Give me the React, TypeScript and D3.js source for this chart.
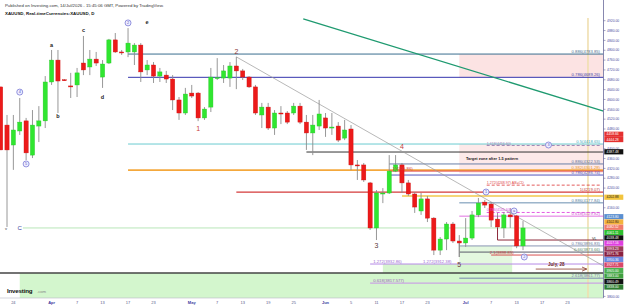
import React from 'react';
import * as d3 from 'd3';

const W = 625;
const H = 307;
const FONT = "'Liberation Sans', Arial, sans-serif";

// Daily XAUUSD candles, first entry = 2026-03-20, then every weekday up to 2026-07-14
const FIRST_INDEX = -1;
const opens = [4651, 4496, 4415, 4472, 4513, 4374, 4492, 4513, 4671, 4760, 4680, 4655, 4659, 4748, 4732, 4764, 4691, 4748, 4842, 4793, 4793, 4793, 4821, 4720, 4740, 4695, 4699, 4683, 4598, 4545, 4626, 4626, 4525, 4569, 4687, 4687, 4687, 4736, 4716, 4691, 4651, 4537, 4569, 4484, 4545, 4545, 4545, 4573, 4508, 4464, 4492, 4525, 4486, 4492, 4443, 4480, 4334, 4334, 4261, 4078, 4218, 4220, 4309, 4334, 4261, 4216, 4147, 4196, 4118, 3988, 4033, 4094, 4025, 4017, 4037, 4131, 4183, 4175, 4114, 4078, 4131, 4127, 4005];
const highs = [4651, 4537, 4537, 4606, 4525, 4557, 4573, 4695, 4801, 4801, 4683, 4708, 4728, 4858, 4801, 4793, 4760, 4846, 4870, 4801, 4890, 4829, 4829, 4760, 4752, 4728, 4716, 4699, 4610, 4647, 4659, 4630, 4569, 4728, 4768, 4740, 4752, 4773, 4724, 4695, 4659, 4586, 4586, 4557, 4573, 4553, 4586, 4586, 4537, 4537, 4598, 4545, 4545, 4508, 4517, 4496, 4354, 4342, 4265, 4232, 4240, 4374, 4374, 4342, 4273, 4224, 4220, 4208, 4122, 4041, 4102, 4102, 4049, 4118, 4147, 4200, 4192, 4183, 4139, 4143, 4159, 4131, 4106];
const lows = [4395, 4082, 4314, 4456, 4354, 4362, 4427, 4484, 4659, 4545, 4675, 4606, 4610, 4699, 4699, 4736, 4647, 4744, 4789, 4781, 4772, 4740, 4671, 4699, 4667, 4671, 4667, 4557, 4517, 4537, 4606, 4512, 4517, 4549, 4679, 4667, 4651, 4642, 4679, 4647, 4537, 4484, 4476, 4456, 4500, 4500, 4537, 4500, 4395, 4374, 4476, 4448, 4456, 4427, 4435, 4313, 4273, 4265, 4070, 4029, 4179, 4216, 4305, 4220, 4208, 4139, 4131, 4102, 3968, 3968, 3988, 4017, 3960, 4001, 4029, 4122, 4159, 4082, 4078, 4037, 4078, 3996, 3988];
const closes = [4395, 4395, 4476, 4508, 4383, 4496, 4513, 4671, 4760, 4675, 4678, 4651, 4708, 4720, 4764, 4748, 4744, 4842, 4793, 4789, 4829, 4821, 4712, 4740, 4695, 4712, 4683, 4598, 4545, 4622, 4614, 4525, 4561, 4691, 4689, 4716, 4736, 4716, 4691, 4651, 4545, 4569, 4484, 4545, 4543, 4508, 4573, 4508, 4464, 4496, 4541, 4484, 4488, 4435, 4476, 4334, 4333, 4273, 4078, 4220, 4220, 4309, 4334, 4261, 4216, 4163, 4196, 4118, 3988, 4033, 4094, 4025, 4017, 4037, 4131, 4179, 4171, 4110, 4082, 4131, 4123, 4005, 4078];

const priceTicks = [4920, 4880, 4840, 4800, 4760, 4720, 4680, 4640, 4600, 4560, 4520, 4480, 4440, 4400, 4360, 4320, 4280, 4240, 4200, 4160, 4120, 4080, 4040, 4000, 3960, 3920, 3880, 3840, 3800];

const dateTicks = [
  ['2026-03-24', '24'], ['2026-04-01', 'Apr'], ['2026-04-07', '7'], ['2026-04-13', '13'], ['2026-04-17', '17'],
  ['2026-04-23', '23'], ['2026-05-01', 'May'], ['2026-05-07', '7'], ['2026-05-13', '13'], ['2026-05-19', '19'],
  ['2026-05-25', '25'], ['2026-06-01', 'Jun'], ['2026-06-05', '5'], ['2026-06-11', '11'], ['2026-06-17', '17'],
  ['2026-06-23', '23'], ['2026-07-01', 'Jul'], ['2026-07-07', '7'], ['2026-07-13', '13'], ['2026-07-17', '17'],
  ['2026-07-23', '23'],
];

const tagValues = ['4458.66', '4444.28', '4387.48', '4202.88', '4123.80', '4102.80', '4082.52', '4061.11', '4038.48', '4017.16', '3993.23', '3971.76', '3950.36', '3927.71', '3905.00', '3883.00', '3860.49', '3838.00'];
const tagColors = ['#e53030', '#e53030', '#111111', '#f2c43d', '#5b8fd0', '#f4b23c', '#f07a6a', '#2fbf2f', '#111111', '#e040e0', '#9a3a5a', '#8a2040', '#6a86e0', '#d8486a', '#4caf50', '#3f9f3f', '#111111', '#2e7d32'];
const tagText = ['#fff', '#fff', '#fff', '#222', '#fff', '#222', '#fff', '#fff', '#fff', '#fff', '#fff', '#fff', '#fff', '#fff', '#fff', '#fff', '#fff', '#fff'];

// horizontal study levels: price, starting bar, label (right side)
const levelPrices = [4784.5, 4690, 4419, 4386.5, 4338, 4313, 4309, 4293, 4224, 4208, 4180, 4126, 4078, 4029, 4005, 3980, 3968, 3931.5, 3895, 3874, 3854];
const levelFrom = [19, 19, 19, 47, 60, 19, 60, 60, 36, 62, 71, 71, 2.5, 77, 71, 71, 76, 57, -2, 71, 57];
const levelLabels = ['0.886(4783.85)', '0.786(4689.26)', '0.5(4418.65)', '', '0.886(4322.53)', '0.382(4301.28)', '', '0.786(4286.74)', '1(4219.07)', '', '0.886(4177.84)', '0.618(4129.82)', '', '', '0.786(3896.83)', '0.66(3873.66)', '', '', '', '2.618(3861.77)', ''];
const levelColors = ['#3a6e8e', '#3535ad', '#6accd0', '#333333', '#6a7fa8', '#f4a83c', '#e24a4a', '#5555bb', '#d43a3a', '#f2c94c', '#6a8fb0', '#e070e0', '#b8e6b8', '#8e2a3a', '#8a96b4', '#5a5a6a', '#d85050', '#b58ae6', '#444444', '#7a88b0', '#c890e8'];
const levelLabelColors = ['#4d6f8e', '#4444aa', '#44aabb', '', '#5a6f98', '#e8952a', '', '#5555bb', '#c43a3a', '', '#5a7fa0', '#d050d0', '', '', '#6a7aa0', '#5a8a6a', '', '', '', '#7a7ab0', ''];
const levelWidths = [1, 1, 1, 1, 1, 1.6, 1, 1, 1.2, 1.6, 1, 1, 1, 1, 1, 1, 1, 1, 1.3, 1, 1];

const leftLabelText = ['1(4305.86)', '1.272(3932.86)', '1.272(3912.38)', '2.1(3898.85)', '0.618(3817.577)'];
const leftLabelBar = [60.5, 57.5, 65.3, 75.8, 57.5];
const leftLabelPrice = [4309, 3931.5, 3931.5, 3968, 3854];
const leftLabelColor = ['#d04040', '#9a6ad0', '#9a6ad0', '#d04040', '#a060c0'];

const dashPrices = [4413, 4252, 4141];
const dashLabels = ['1.618(4416.60)', '1.272(4248.97)   AB=CD', '0.786(4145.60)'];
const dashColors = ['#9a80b0', '#e04848', '#e048e0'];

const zoneFrom = [71, 71, 59, 71, 2];
const zoneTo = [94, 94, 79.3, 79.3, 94];
const zoneTop = [4784.5, 4419, 3931.5, 4005, 3895];
const zoneBottom = [4690, 4300, 3895, 3931.5, 3793];
const zoneFill = ['#fce3e3', '#fde9e9', '#d6f5cf', '#e4f8df', '#d3f6cd'];

const waveText = ['a', 'b', 'c', 'd', 'e', '1', '2', '3', '4', '5', 'C'];
const waveBar = [7, 8, 12, 15, 22, 30, 36, 58, 62, 71, 2];
const wavePrice = [4821, 4533, 4882, 4610, 4915, 4480, 4793, 4005, 4407, 3928, 4078];
const waveColor = ['#222', '#222', '#222', '#222', '#222', '#c84040', '#8a3a3a', '#5a3a3a', '#c04040', '#6a3a3a', '#4040a0'];
const waveSize = [5.5, 5.5, 5.5, 5.5, 5.5, 7, 7, 7, 7, 7, 6];

const circleText = ['4', '5', '2', '1', 'a', '2', '3'];
const circleBar = [2, 3, 19, 75.2, 79.6, 81.2, 85];
const circlePrice = [4630, 4338, 4911, 4224, 4147, 3960, 4415];

export default function App() {
  const days: string[] = [];
  {
    let d = new Date(Date.UTC(2026, 2, 20));
    while (days.length < 110) {
      const wd = d.getUTCDay();
      if (wd !== 0 && wd !== 6) days.push(d.toISOString().slice(0, 10));
      d = new Date(d.getTime() + 86400000);
    }
  }
  const barOf = (s: string) => days.indexOf(s) + FIRST_INDEX;

  const x = d3.scaleLinear().domain([0, 81]).range([7, 523]);
  const y = d3.scaleLinear().domain([3800, 4920]).range([296.4, 20.7]);
  const PR = 603.5;
  const PB = 298;

  const candles = opens.map((o, i) => ({ t: i + FIRST_INDEX, o, h: highs[i], l: lows[i], c: closes[i] }));

  const tags = tagValues.map((v, i) => ({ v, y: y(parseFloat(v)), bg: tagColors[i], fg: tagText[i] }))
    .sort((a, b) => a.y - b.y);
  let prev = -Infinity;
  tags.forEach((tg) => { if (tg.y < prev + 5.3) tg.y = prev + 5.3; prev = tg.y; });

  const shownTicks = priceTicks.filter((p) => tags.every((tg) => Math.abs(tg.y - y(p)) > 2.8));

  const grayDiag = { x1: x(36), y1: y(4773), x2: PR, y2: y(3923.5) };
  const greenDiag = { x1: x(46.5), y1: y(4927), x2: PR, y2: y(4553) };

  return (
    <svg width={W} height={H} style={{ position: 'absolute', left: 0, top: 0, background: '#fff' }} fontFamily={FONT}>
      <defs>
        <clipPath id="plot"><rect x={0} y={0} width={PR} height={PB} /></clipPath>
        <marker id="arr" markerWidth="6" markerHeight="6" refX="5" refY="3" orient="auto" markerUnits="userSpaceOnUse">
          <path d="M0,0.8 L5,3 L0,5.2" fill="none" stroke="#8a3a2a" strokeWidth="0.8" />
        </marker>
      </defs>
      <rect x={0} y={0} width={W} height={H} fill="#fff" />
      <text x={5} y={7.3} fontSize={4.3} fill="#333">Published on Investing.com, 14/Jul/2026 - 15:45:06 GMT, Powered by TradingView.</text>
      <text x={5} y={15.2} fontSize={4.4} fontWeight="bold" fill="#111">XAUUSD, Real-timeCurrencies:XAUUSD, D</text>

      <g clipPath="url(#plot)">
        {zoneFrom.map((f, i) => (
          <rect key={'z' + i} x={x(f)} y={y(zoneTop[i])} width={Math.min(x(zoneTo[i]), PR) - x(f)}
            height={y(zoneBottom[i]) - y(zoneTop[i])} fill={zoneFill[i]} />
        ))}
        <line x1={x(91.2)} x2={x(91.2)} y1={18} y2={PB} stroke="#f0dfb0" strokeWidth={1.6} />

        {levelPrices.map((p, i) => (
          <line key={'l' + i} x1={Math.max(0, x(levelFrom[i]))} x2={PR} y1={y(p)} y2={y(p)}
            stroke={levelColors[i]} strokeWidth={levelWidths[i]} />
        ))}
        {dashPrices.map((p, i) => (
          <line key={'d' + i} x1={x(75.3)} x2={600} y1={y(p)} y2={y(p)} stroke={dashColors[i]}
            strokeWidth={0.9} strokeDasharray="3,2" />
        ))}
        <line x1={greenDiag.x1} y1={greenDiag.y1} x2={greenDiag.x2} y2={greenDiag.y2} stroke="#1f9a70" strokeWidth={1.3} />
        <line x1={grayDiag.x1} y1={grayDiag.y1} x2={grayDiag.x2} y2={grayDiag.y2} stroke="#999" strokeWidth={0.7} />
        <line x1={x(77)} x2={x(77)} y1={y(4127)} y2={y(4029)} stroke="#8e2a3a" strokeWidth={1} />
        <line x1={x(71)} x2={x(71)} y1={y(4017)} y2={y(3960)} stroke="#777" strokeWidth={0.8} />
        <line x1={x(83)} x2={x(91)} y1={y(3911)} y2={y(3911)} stroke="#8a3a2a" strokeWidth={0.8} markerEnd="url(#arr)" />
        <text x={548} y={y(3911) - 2.6} fontSize={4.6} fontWeight="bold" fill="#6a2a2a">July, 28</text>

        {candles.map((k) => {
          const cx = x(k.t);
          const up = k.c >= k.o;
          const top = y(Math.max(k.o, k.c));
          const bh = Math.max(1, Math.abs(y(k.o) - y(k.c)));
          return (
            <g key={'c' + k.t}>
              <line x1={cx} x2={cx} y1={y(k.h)} y2={y(k.l)} stroke="#8c8c8c" strokeWidth={0.9} />
              <rect x={cx - 2.1} y={top} width={4.2} height={bh} fill={up ? '#30e630' : '#ec1a1a'}
                stroke={up ? '#26c826' : '#d01010'} strokeWidth={0.4} />
            </g>
          );
        })}

        {levelLabels.map((lb, i) => lb ? (
          <text key={'ll' + i} x={600} y={y(levelPrices[i]) - 1.2} fontSize={4.2} textAnchor="end" fill={levelLabelColors[i]}>{lb}</text>
        ) : null)}
        {leftLabelText.map((lb, i) => (
          <text key={'lt' + i} x={x(leftLabelBar[i])} y={y(leftLabelPrice[i]) - 1.2} fontSize={4.2} fill={leftLabelColor[i]}>{lb}</text>
        ))}
        {dashLabels.map((lb, i) => (
          <text key={'dl' + i} x={x(75.3)} y={y(dashPrices[i]) - 1} fontSize={3.6} fill={dashColors[i]}>{lb}</text>
        ))}
        <text x={466} y={159.5} fontSize={3.9} fontWeight="bold" fill="#222">Target zone after 1-5 pattern</text>
        <text x={592} y={239.5} fontSize={3.8} fill="#333">VL</text>
        <text x={5} y={229.5} fontSize={4} fill="#333">v</text>

        {waveText.map((t, i) => (
          <text key={'w' + i} x={x(waveBar[i])} y={y(wavePrice[i])} dy="0.35em" textAnchor="middle"
            fontSize={waveSize[i]} fontWeight={waveSize[i] < 6 ? 'bold' : 'normal'} fill={waveColor[i]}>{t}</text>
        ))}
        {circleText.map((t, i) => (
          <g key={'ci' + i}>
            <circle cx={x(circleBar[i])} cy={y(circlePrice[i])} r={3} fill="#eef" stroke="#6a6ad0" strokeWidth={0.7} />
            <text x={x(circleBar[i])} y={y(circlePrice[i])} dy="0.35em" textAnchor="middle" fontSize={3.8} fill="#5050c0">{t}</text>
          </g>
        ))}

        <text x={7} y={293} fontSize={6.2} fontWeight="bold" fill="#111" letterSpacing={-0.2}>Investing</text>
        <text x={37} y={293} fontSize={4.2} fill="#888">.com</text>
      </g>

      {/* right price axis */}
      <line x1={PR} x2={PR} y1={0} y2={PB} stroke="#6a6a9a" strokeWidth={0.8} />
      {shownTicks.map((p) => (
        <g key={'pt' + p}>
          <line x1={PR} x2={PR + 2} y1={y(p)} y2={y(p)} stroke="#6a6a9a" strokeWidth={0.6} />
          <text x={607} y={y(p)} dy="0.35em" fontSize={3.4} fill="#4b4ba0">{p.toFixed(2)}</text>
        </g>
      ))}
      {tags.map((tg, i) => (
        <g key={'tg' + i}>
          <rect x={604.3} y={tg.y - 2.6} width={19} height={5.2} fill={tg.bg} />
          <text x={606.5} y={tg.y} dy="0.35em" fontSize={3.4} fill={tg.fg}>{tg.v}</text>
        </g>
      ))}

      {/* bottom date axis */}
      <line x1={0} x2={PR} y1={PB} y2={PB} stroke="#b8b8c8" strokeWidth={0.6} />
      {dateTicks.map(([d, lb]) => {
        const isMonth = /[A-Za-z]/.test(lb);
        return (
          <text key={'dt' + d} x={x(barOf(d))} y={304} textAnchor="middle" fontSize={4}
            fontWeight={isMonth ? 'bold' : 'normal'} fill={isMonth ? '#3a3aa0' : '#5a5a8a'}>{lb}</text>
        );
      })}
    </svg>
  );
}
